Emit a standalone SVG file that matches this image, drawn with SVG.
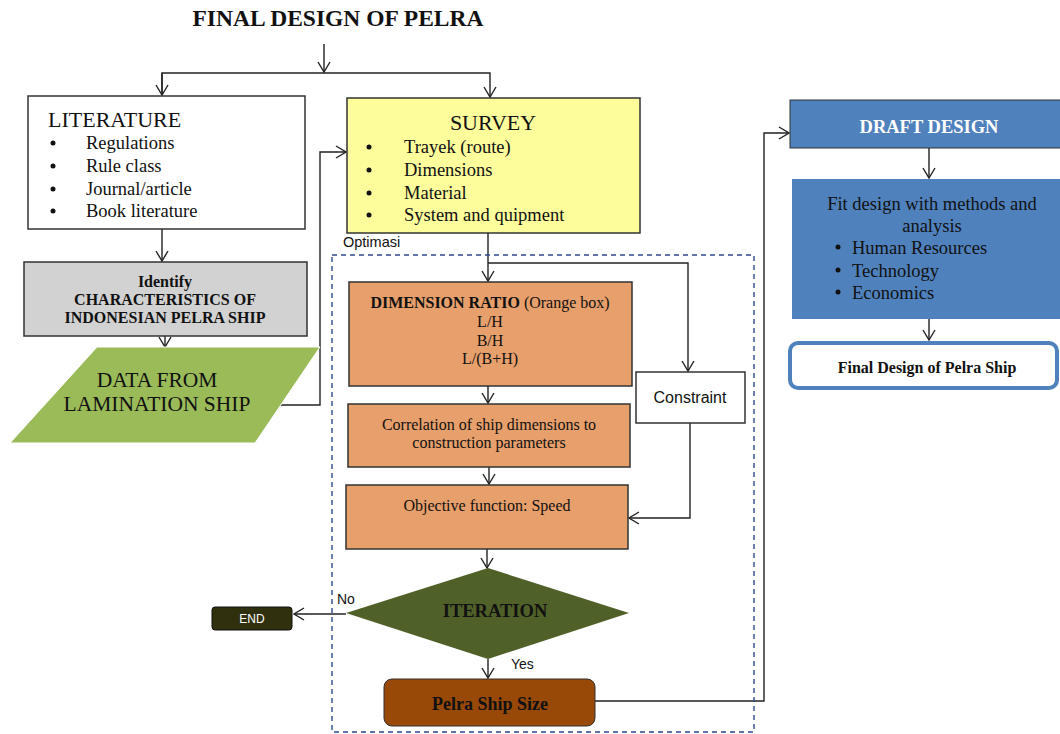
<svg xmlns="http://www.w3.org/2000/svg" width="1060" height="734" viewBox="0 0 1060 734">
<style>
.s{font-family:"Liberation Serif","Times New Roman",serif;fill:#111}
.a{font-family:"Liberation Sans",Arial,sans-serif;fill:#111}
.b{font-weight:bold}
.box{stroke:#333;stroke-width:1.5}
.c{fill:none;stroke:#222;stroke-width:1.4}
</style>
<defs>
<marker id="ar" markerUnits="userSpaceOnUse" markerWidth="12" markerHeight="14" viewBox="0 0 12 14" refX="11" refY="7" orient="auto">
<path d="M1,1 L11,7 L1,13" fill="none" stroke="#222" stroke-width="1.4"/>
</marker>
</defs>
<rect width="1060" height="734" fill="#fff"/>
<text class="s b" x="338" y="26" font-size="23.5" text-anchor="middle">FINAL DESIGN OF PELRA</text>

<g id="connectors">
<path class="c" d="M324,44 V72" marker-end="url(#ar)"/>
<path class="c" d="M162,95 V73 H490 V97" marker-end="url(#ar)"/>
<path class="c" d="M162,73 V95" marker-end="url(#ar)"/>
<path class="c" d="M162,229 V261" marker-end="url(#ar)"/>
<path class="c" d="M165,336 V347" marker-end="url(#ar)"/>
<path class="c" d="M279,405 H320 V152 H346" marker-end="url(#ar)"/>
<path class="c" d="M488,233 V281" marker-end="url(#ar)"/>
<path class="c" d="M488,263 H688 V371" marker-end="url(#ar)"/>
<path class="c" d="M488,386 V403" marker-end="url(#ar)"/>
<path class="c" d="M489,467 V484" marker-end="url(#ar)"/>
<path class="c" d="M690,423 V518 H629" marker-end="url(#ar)"/>
<path class="c" d="M487,549 V568" marker-end="url(#ar)"/>
<path class="c" d="M346,614 H294" marker-end="url(#ar)"/>
<path class="c" d="M488,659 V678" marker-end="url(#ar)"/>
<path class="c" d="M595,701 H764 V133 H789" marker-end="url(#ar)"/>
<path class="c" d="M929,148 V178" marker-end="url(#ar)"/>
<path class="c" d="M929,319 V340" marker-end="url(#ar)"/>
</g>

<g id="optimasi">
<rect x="332" y="255" width="422" height="477" fill="none" stroke="#2e4a8a" stroke-width="1.4" stroke-dasharray="5,4"/>
<text class="a" x="343" y="247" font-size="14.5">Optimasi</text>
</g>

<g id="literature">
<rect class="box" x="28" y="96" width="277" height="133" fill="#fff" stroke-width="2"/>
<text class="s" x="48" y="127" font-size="22">LITERATURE</text>
<g class="s" font-size="18.5">
<circle cx="53" cy="143" r="2.5" fill="#111"/><text x="86" y="149">Regulations</text>
<circle cx="53" cy="166" r="2.5" fill="#111"/><text x="86" y="172">Rule class</text>
<circle cx="53" cy="189" r="2.5" fill="#111"/><text x="86" y="195">Journal/article</text>
<circle cx="53" cy="211" r="2.5" fill="#111"/><text x="86" y="217">Book literature</text>
</g>
</g>

<g id="survey">
<rect class="box" x="347" y="98" width="293" height="135" fill="#fdfd9c"/>
<text class="s" x="493" y="130" font-size="22" text-anchor="middle">SURVEY</text>
<g class="s" font-size="18.5">
<circle cx="369" cy="147" r="2.5" fill="#111"/><text x="404" y="153">Trayek (route)</text>
<circle cx="369" cy="170" r="2.5" fill="#111"/><text x="404" y="176">Dimensions</text>
<circle cx="369" cy="193" r="2.5" fill="#111"/><text x="404" y="199">Material</text>
<circle cx="369" cy="215" r="2.5" fill="#111"/><text x="404" y="221">System and quipment</text>
</g>
</g>

<g id="identify">
<rect class="box" x="24" y="262" width="283" height="74" fill="#d2d2d2"/>
<g class="s b" font-size="16" text-anchor="middle">
<text x="165" y="287">Identify</text>
<text x="165" y="305">CHARACTERISTICS OF</text>
<text x="165" y="323">INDONESIAN PELRA SHIP</text>
</g>
</g>

<g id="data">
<polygon points="97,347 320,347 255,443 10,443" fill="#9bbb59" stroke="#fff" stroke-width="1"/>
<g class="s" font-size="21.5" text-anchor="middle">
<text x="157" y="387">DATA FROM</text>
<text x="157" y="411">LAMINATION SHIP</text>
</g>
</g>

<g id="dimension">
<rect class="box" x="349" y="282" width="283" height="104" fill="#e79f6b"/>
<g class="s" font-size="16" text-anchor="middle">
<text x="490" y="308"><tspan font-weight="bold">DIMENSION RATIO</tspan> (Orange box)</text>
<text x="490" y="327">L/H</text>
<text x="490" y="346">B/H</text>
<text x="490" y="364">L/(B+H)</text>
</g>
</g>

<g id="correlation">
<rect class="box" x="348" y="404" width="282" height="63" fill="#e79f6b"/>
<g class="s" font-size="16" text-anchor="middle">
<text x="489" y="430">Correlation of ship dimensions to</text>
<text x="489" y="448">construction parameters</text>
</g>
</g>

<g id="constraint">
<rect class="box" x="636" y="372" width="109" height="51" fill="#fff"/>
<text class="a" x="690" y="403" font-size="16" text-anchor="middle">Constraint</text>
</g>

<g id="objective">
<rect class="box" x="346" y="485" width="282" height="64" fill="#e79f6b"/>
<text class="s" x="487" y="511" font-size="16" text-anchor="middle">Objective function: Speed</text>
</g>

<g id="iteration">
<polygon points="488,568 629,613 488,659 346,613" fill="#4f6128"/>
<text class="s b" x="495" y="617" font-size="18.5" text-anchor="middle" fill="#1a1a1a">ITERATION</text>
<text class="a" x="337" y="604" font-size="14">No</text>
<text class="a" x="511" y="669" font-size="14">Yes</text>
</g>

<g id="end">
<rect x="212" y="607" width="80" height="23" rx="3" fill="#30300e" stroke="#111" stroke-width="1"/>
<text x="252" y="623" font-family="Liberation Sans,Arial,sans-serif" font-size="12" fill="#fff" text-anchor="middle">END</text>
</g>

<g id="pelra">
<rect x="384" y="679" width="211" height="47" rx="8" fill="#984807" stroke="#333" stroke-width="1"/>
<text class="s b" x="490" y="710" font-size="18" text-anchor="middle">Pelra Ship Size</text>
</g>

<g id="draft">
<rect x="790" y="100" width="272" height="48" fill="#4f81bd" stroke="#333" stroke-width="1"/>
<text x="929" y="133" font-family="Liberation Serif,Times New Roman,serif" font-weight="bold" font-size="18.5" fill="#fff" text-anchor="middle">DRAFT DESIGN</text>
</g>

<g id="fit">
<rect x="792" y="179" width="270" height="140" fill="#4f81bd"/>
<g class="s" font-size="18.5">
<text x="932" y="210" text-anchor="middle">Fit design with methods and</text>
<text x="932" y="232" text-anchor="middle">analysis</text>
<circle cx="838" cy="247" r="2.5" fill="#111"/><text x="852" y="254">Human Resources</text>
<circle cx="838" cy="270" r="2.5" fill="#111"/><text x="852" y="277">Technology</text>
<circle cx="838" cy="292" r="2.5" fill="#111"/><text x="852" y="299">Economics</text>
</g>
</g>

<g id="final">
<rect x="790" y="343" width="267" height="45" rx="8" fill="#fff" stroke="#4f81bd" stroke-width="4"/>
<text class="s b" x="927" y="373" font-size="16" text-anchor="middle">Final Design of Pelra Ship</text>
</g>
</svg>
